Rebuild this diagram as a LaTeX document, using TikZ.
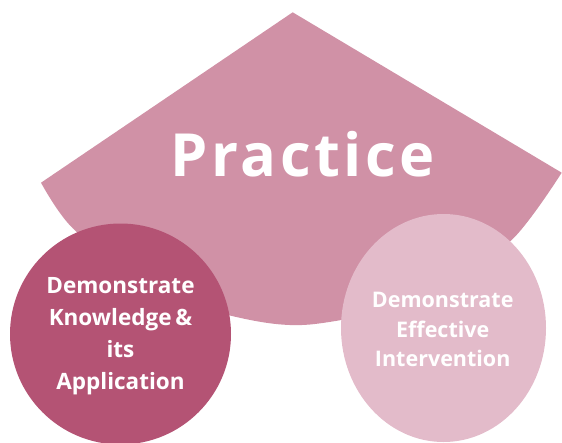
\documentclass[tikz,border=0pt]{standalone}
\usepackage{fontspec}
\setmainfont{Open Sans}
\newfontfamily\practicefont[LetterSpace=6]{Open Sans}
\usetikzlibrary{shapes.geometric}
\definecolor{bigpink}{HTML}{D091A6}
\definecolor{darkpink}{HTML}{B45374}
\definecolor{lightpink}{HTML}{E3BBCA}
\tikzset{
  bubble/.style={inner sep=0pt, outer sep=0pt},
  bubbletext/.style={text=white, align=center, font=\bfseries\fontsize{22.5}{32}\selectfont, inner sep=0pt},
}
\begin{document}
\begin{tikzpicture}[x=1pt,y=-1pt]
\useasboundingbox (0,0) rectangle (562,442);
% big sector shape
\coordinate (apex) at (292.7,12.3);
\coordinate (lc) at (41,182.7);
\coordinate (rc) at (561.7,172.7);
\fill[bigpink] (apex) -- (lc) -- plot[smooth, tension=0.5] coordinates {(41,182.7) (73,228.5) (150,287) (232,316) (310,324.5) (430,297.5) (511.7,240) (561.7,172.7)} -- cycle;
\node[text=white, font=\practicefont\bfseries\fontsize{59.5}{60}\selectfont, anchor=base west, inner sep=0pt] (practice) at (170.2,176.7) {Practice};
% circles
\node[bubble, circle, fill=darkpink, minimum size=221pt] (know) at (120.5,334) {};
\node[bubble, ellipse, fill=lightpink, minimum width=205pt, minimum height=228pt] (interv) at (443.5,328) {};
\node[bubbletext] (knowtext) at (120.5,335.7) {Demonstrate\\Knowledge\,\&\\its\\Application};
\node[bubbletext, font=\bfseries\fontsize{21.5}{29.5}\selectfont] (intervtext) at (442.7,329.7) {Demonstrate\\Effective\\Intervention};
\end{tikzpicture}
\end{document}
